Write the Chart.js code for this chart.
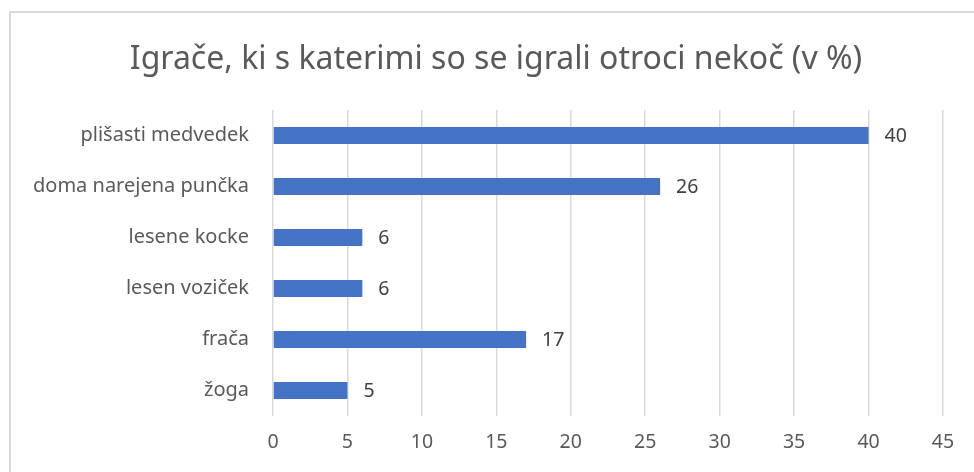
<!DOCTYPE html>
<html>
<head>
<meta charset="utf-8">
<script src="https://cdn.jsdelivr.net/npm/chart.js@4"></script>
<style>
  html, body { margin: 0; padding: 0; background: #fff; overflow: hidden; }
  #frame { position: absolute; left: 9px; top: 11px; width: 1000px; height: 500px; border: 2px solid #d9d9d9; }
  #wrap { position: absolute; left: 0; top: 0; width: 974px; height: 472px; }
</style>
</head>
<body>
<div id="frame"></div>
<div id="wrap"><canvas id="chart" width="974" height="472"></canvas></div>
<script>
const title = 'Igrače, ki s katerimi so se igrali otroci nekoč (v %)';
const categories = ['plišasti medvedek', 'doma narejena punčka', 'lesene kocke', 'lesen voziček', 'frača', 'žoga'];
const values = [40, 26, 6, 6, 17, 5];
const xTicks = [0, 5, 10, 15, 20, 25, 30, 35, 40, 45];

const FONT = '"Noto Sans", "Open Sans", sans-serif';

// the title sits centred on the whole frame, which runs past the right edge,
// so it is drawn here instead of by the title plugin
const frameTitle = {
    id: 'frameTitle',
    afterDraw(chart) {
        const ctx = chart.ctx;
        ctx.save();
        ctx.font = '32px ' + FONT;
        ctx.fillStyle = '#595959';
        ctx.textAlign = 'center';
        ctx.textBaseline = 'middle';
        ctx.fillText(title, 496, 60);
        ctx.restore();
    }
};

// draw the value next to the end of every bar
const valueLabels = {
    id: 'valueLabels',
    afterDatasetsDraw(chart) {
        const ctx = chart.ctx;
        ctx.save();
        ctx.font = '19.5px ' + FONT;
        ctx.fillStyle = '#404040';
        ctx.textAlign = 'left';
        ctx.textBaseline = 'middle';
        chart.getDatasetMeta(0).data.forEach((bar, i) => {
            ctx.fillText(String(values[i]), bar.x + 16, bar.y + 1);
        });
        ctx.restore();
    }
};

new Chart(document.getElementById('chart'), {
    type: 'bar',
    data: {
        labels: categories,
        datasets: [{
            data: values,
            backgroundColor: '#4472C4',
            categoryPercentage: 1,
            barPercentage: 0.33
        }]
    },
    options: {
        indexAxis: 'y',
        responsive: false,
        animation: false,
        layout: { padding: { left: 10, right: 31, top: 110, bottom: 0 } },
        plugins: {
            legend: { display: false },
            tooltip: { enabled: false },
            title: { display: false }
        },
        scales: {
            x: {
                min: 0,
                max: 45,
                afterBuildTicks(scale) { scale.ticks = xTicks.map(v => ({ value: v })); },
                grid: { color: '#d9d9d9', lineWidth: 1.5, drawTicks: false },
                border: { display: false },
                ticks: { color: '#595959', padding: 15, font: { family: FONT, size: 19.5 } },
                afterFit(scale) { scale.height = 56; }
            },
            y: {
                grid: { display: false, drawTicks: false },
                border: { display: false },
                ticks: { color: '#595959', padding: 24, font: { family: FONT, size: 20 } },
                afterFit(scale) { scale.width = 263; }
            }
        }
    },
    plugins: [valueLabels, frameTitle]
});
</script>
</body>
</html>
